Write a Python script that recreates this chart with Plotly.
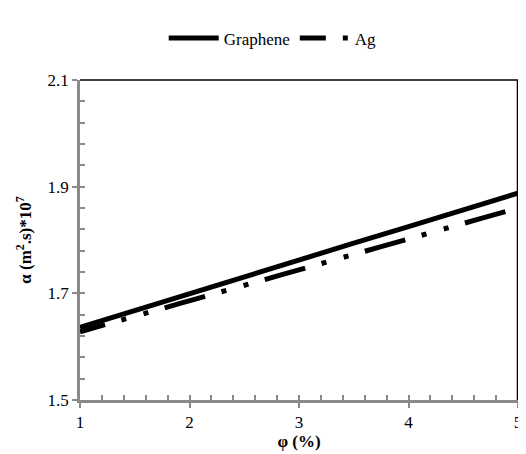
import plotly.graph_objects as go

phi = [1, 1.5, 2, 2.5, 3, 3.5, 4, 4.5, 5]
graphene = [1.636, 1.668, 1.699, 1.731, 1.762, 1.794, 1.825, 1.857, 1.888]
ag = [1.628, 1.657, 1.686, 1.715, 1.744, 1.773, 1.802, 1.831, 1.860]

x_ticks = [1, 2, 3, 4, 5]
y_ticks = [1.5, 1.7, 1.9, 2.1]
y_labels = ["1.5", "1.7", "1.9", "2.1"]

FONT = 'Liberation Serif, "Times New Roman", serif'
GRAY = "#8a8a8a"

fig = go.Figure()
fig.add_trace(go.Scatter(x=phi, y=graphene, mode="lines", name="Graphene",
                         line=dict(color="black", width=5)))
fig.add_trace(go.Scatter(x=phi, y=ag, mode="lines", name="Ag",
                         line=dict(color="black", width=5,
                                   dash="26px,17px,5px,18px,5px,17px,16px,0px")))
# helper trace for the inside tick axes
fig.add_trace(go.Scatter(x=[1], y=[1.5], xaxis="x2", yaxis="y2", showlegend=False,
                         mode="markers", marker=dict(opacity=0), hoverinfo="skip"))

fig.update_layout(
    width=526, height=454,
    margin=dict(l=72, r=12, t=63, b=62),
    paper_bgcolor="white", plot_bgcolor="white",
    font=dict(family=FONT, size=17, color="black"),
    showlegend=True,
    legend=dict(orientation="h", x=0.44, y=1.13, xanchor="center", yanchor="middle",
                font=dict(family=FONT, size=17), itemwidth=50),
    xaxis=dict(range=[1, 5], tickvals=x_ticks, ticks="outside", ticklen=5,
               tickcolor=GRAY, tickwidth=1.5, showline=True, linecolor=GRAY,
               linewidth=2.5, showgrid=False, zeroline=False,
               title=dict(text="<b>φ (%)</b>", font=dict(family=FONT, size=17),
                          standoff=4)),
    yaxis=dict(range=[1.5, 2.1], tickvals=y_ticks, ticktext=y_labels,
               ticks="outside", ticklen=5,
               tickcolor=GRAY, tickwidth=1.5, showline=True, linecolor=GRAY,
               linewidth=2.5, showgrid=False, zeroline=False,
               title=dict(text="<b>α (m<sup>2</sup>.s)*10<sup>7</sup></b>",
                          font=dict(family=FONT, size=17), standoff=12)),
    xaxis2=dict(range=[1, 5], overlaying="x", anchor="y2", side="bottom",
                tick0=1, dtick=0.2, ticks="inside", ticklen=5, tickcolor=GRAY,
                tickwidth=1.5, showticklabels=False, showgrid=False, zeroline=False,
                showline=False),
    yaxis2=dict(range=[1.5, 2.1], overlaying="y", anchor="x2", side="left",
                tick0=1.5, dtick=0.04, ticks="inside", ticklen=5, tickcolor=GRAY,
                tickwidth=1.5, showticklabels=False, showgrid=False, zeroline=False,
                showline=False),
    shapes=[
        dict(type="line", xref="paper", yref="paper", x0=0, x1=1, y0=1, y1=1,
             line=dict(color="black", width=1.5)),
        dict(type="line", xref="paper", yref="paper", x0=1, x1=1, y0=0, y1=1,
             line=dict(color="black", width=2.5)),
    ],
)

fig.write_html("out.html")
